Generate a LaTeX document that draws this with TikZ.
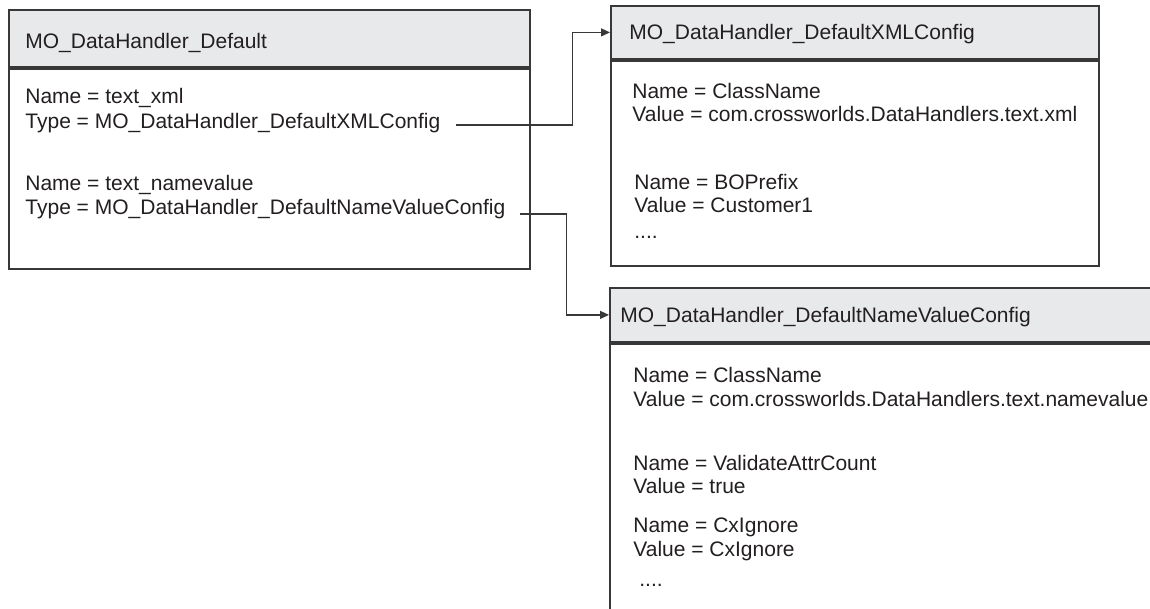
\documentclass[tikz,border=0pt]{standalone}
\usepackage{fontspec}
\setmainfont{Liberation Sans}
\usepackage{xcolor}
\usetikzlibrary{arrows.meta,positioning}
\definecolor{headgray}{HTML}{E8E9EB}
\definecolor{linegray}{HTML}{383838}
\definecolor{textgray}{HTML}{231F20}

\begin{document}
\begin{tikzpicture}[x=0.5pt,y=-0.5pt,
    font=\fontsize{10.5}{12.5}\selectfont,
    box/.style={draw=linegray, line width=0.9pt, anchor=north west, inner sep=0pt},
    head/.style={box, fill=headgray},
    title/.style={anchor=west, inner sep=0pt, text height=7.5pt, text depth=0pt, text=textgray},
    attr/.style={anchor=base west, inner sep=0pt, text=textgray},
    link/.style={draw=linegray, line width=0.6pt, -{Triangle[length=4.5pt,width=4pt]}}]
  \useasboundingbox (0,0) rectangle (1150,609);
  \clip (0,0) rectangle (1150,609);
  \fill[white] (0,0) rectangle (1150,609);

  % default data handler
  \node[head, minimum width=260.5pt, minimum height=28.5pt] (dflthead) at (8,9) {};
  \node[box, minimum width=260.5pt, minimum height=100pt] (dfltbody) at (dflthead.south west) {};
  \node[title, right=8.5pt of dflthead.west, yshift=-1.5pt] (dflttitle) {MO\_DataHandler\_Default};
  \node[attr] (xmlname) at (25,104) {Name = text\_xml};
  \node[attr] (xmltype) at (25,129) {Type = MO\_DataHandler\_DefaultXMLConfig};
  \node[attr] (nvname) at (25,191) {Name = text\_namevalue};
  \node[attr] (nvtype) at (25,215) {Type = MO\_DataHandler\_DefaultNameValueConfig};

  % xml config
  \node[head, minimum width=244pt, minimum height=26.5pt] (xmlhead) at (610,5) {};
  \node[box, minimum width=244pt, minimum height=102.5pt] (xmlbody) at (xmlhead.south west) {};
  \node[title, right=9.5pt of xmlhead.west] (xmltitle) {MO\_DataHandler\_DefaultXMLConfig};
  \node[attr] (xmlclass) at (632,99) {Name = ClassName};
  \node[attr] (xmlclassval) at (632,122) {Value = com.crossworlds.DataHandlers.text.xml};
  \node[attr] (xmlprefix) at (634,190) {Name = BOPrefix};
  \node[attr] (xmlprefixval) at (634,213) {Value = Customer1};
  \node[attr] (xmlmore) at (634,239) {....};

  % name value config
  \node[head, minimum width=300pt, minimum height=27pt] (nvhead) at (609,287) {};
  \node[box, minimum width=300pt, minimum height=150pt] (nvbody) at (nvhead.south west) {};
  \node[title, right=5.5pt of nvhead.west] (nvtitle) {MO\_DataHandler\_DefaultNameValueConfig};
  \node[attr] (nvclass) at (633,382) {Name = ClassName};
  \node[attr] (nvclassval) at (633,406) {Value = com.crossworlds.DataHandlers.text.namevalue};
  \node[attr] (nvcount) at (633,470) {Name = ValidateAttrCount};
  \node[attr] (nvcountval) at (633,493) {Value = true};
  \node[attr] (nvignore) at (633,532) {Name = CxIgnore};
  \node[attr] (nvignoreval) at (633,556) {Value = CxIgnore};
  \node[attr] (nvmore) at (639,586) {....};

  % links
  \draw[link] ([xshift=7.5pt,yshift=-0.75pt]xmltype.east) -- ++(58.5pt,0) |- (xmlhead.west);
  \draw[link] ([xshift=7pt,yshift=-2.25pt]nvtype.east) -- ++(23.5pt,0) |- (nvhead.west);
\end{tikzpicture}
\end{document}
